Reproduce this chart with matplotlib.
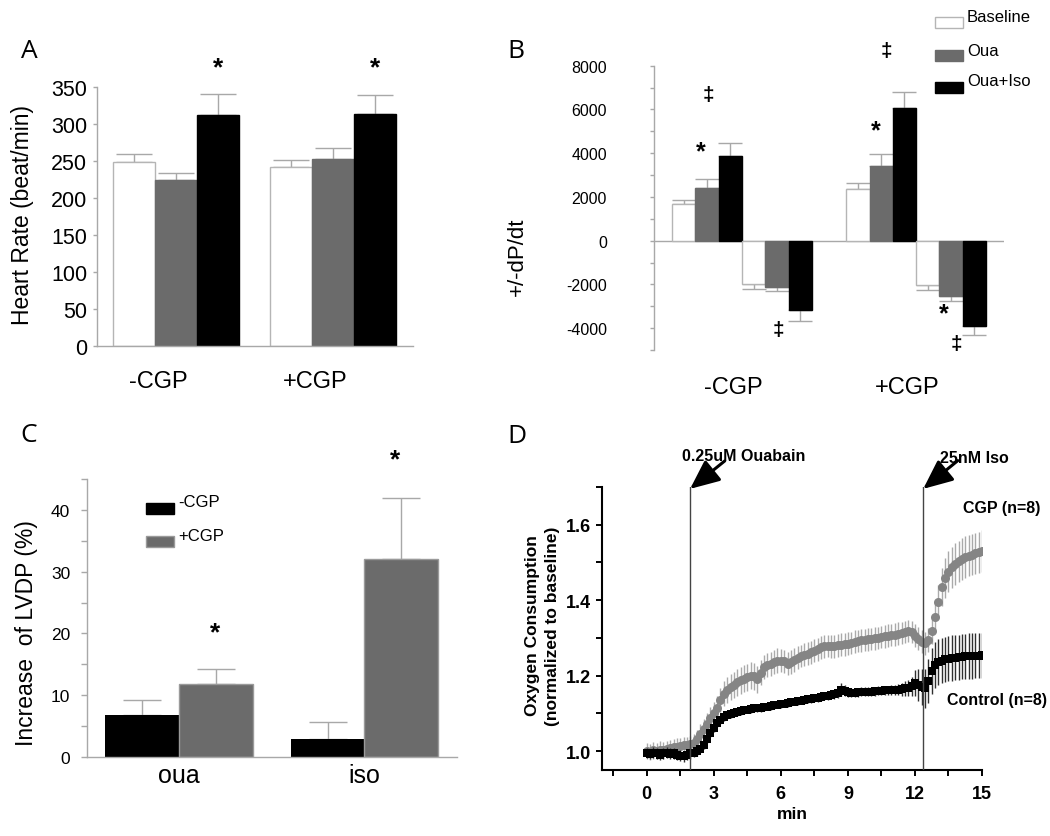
import numpy as np
import matplotlib
matplotlib.use("Agg")
import matplotlib.pyplot as plt
from matplotlib.patches import Rectangle
from matplotlib.ticker import MultipleLocator

plt.rcParams['font.family'] = ['Liberation Sans', 'DejaVu Sans']
plt.rcParams['axes.unicode_minus'] = False

W, H = 1050, 837

# ---------------- data ----------------
# Panel A: heart rate
groups_A = ['-CGP', '+CGP']
hr_baseline = [248, 242]
hr_baseline_err = [12, 9]
hr_oua = [225, 253]
hr_oua_err = [9, 15]
hr_ouaiso = [312, 314]
hr_ouaiso_err = [29, 25]

# Panel B: +/- dP/dt
groups_B = ['-CGP', '+CGP']
dp_pos_baseline = [1660, 2370]
dp_pos_baseline_err = [220, 280]
dp_pos_oua = [2420, 3420]
dp_pos_oua_err = [390, 540]
dp_pos_ouaiso = [3850, 6080]
dp_pos_ouaiso_err = [610, 720]
dp_neg_baseline = [-2000, -2050]
dp_neg_baseline_err = [230, 190]
dp_neg_oua = [-2110, -2540]
dp_neg_oua_err = [200, 230]
dp_neg_ouaiso = [-3150, -3890]
dp_neg_ouaiso_err = [540, 420]
legend_B = ['Baseline', 'Oua', 'Oua+Iso']

# Panel C: increase of LVDP
groups_C = ['oua', 'iso']
lvdp_minus_cgp = [6.75, 2.97]
lvdp_minus_cgp_err = [2.45, 2.7]
lvdp_plus_cgp = [11.77, 32.1]
lvdp_plus_cgp_err = [2.53, 9.8]
legend_C = ['-CGP', '+CGP']

# Panel D: oxygen consumption time course (min)
time_min = [round(0.15 * i, 2) for i in range(101)]
cgp_mean = [1.000, 0.998, 1.002, 1.000, 1.004, 1.002, 1.006, 1.008, 1.010, 1.012,
            1.014, 1.015, 1.016, 1.018, 1.022, 1.032, 1.045, 1.058, 1.072, 1.088,
            1.100, 1.115, 1.135, 1.152, 1.162, 1.170, 1.176, 1.182, 1.188, 1.192,
            1.196, 1.200, 1.198, 1.190, 1.208, 1.222, 1.228, 1.232, 1.236, 1.240,
            1.240, 1.238, 1.232, 1.236, 1.242, 1.248, 1.252, 1.256, 1.258, 1.262,
            1.266, 1.270, 1.275, 1.278, 1.279, 1.278, 1.278, 1.280, 1.282, 1.283,
            1.285, 1.287, 1.290, 1.292, 1.294, 1.295, 1.296, 1.297, 1.299, 1.300,
            1.302, 1.304, 1.306, 1.308, 1.309, 1.311, 1.313, 1.316, 1.318, 1.316,
            1.306, 1.298, 1.290, 1.286, 1.294, 1.318, 1.355, 1.395, 1.435, 1.460,
            1.476, 1.487, 1.496, 1.503, 1.509, 1.514, 1.518, 1.521, 1.524, 1.527,
            1.530]
cgp_err = [0.022, 0.022, 0.022, 0.022, 0.022, 0.022, 0.022, 0.022, 0.022, 0.022,
           0.022, 0.022, 0.022, 0.022, 0.024, 0.025, 0.026, 0.027, 0.028, 0.029,
           0.030, 0.031, 0.032, 0.033, 0.034, 0.035, 0.035, 0.036, 0.036, 0.036,
           0.036, 0.036, 0.036, 0.036, 0.034, 0.032, 0.032, 0.032, 0.032, 0.032,
           0.031, 0.031, 0.031, 0.031, 0.031, 0.030, 0.030, 0.030, 0.030, 0.030,
           0.030, 0.030, 0.030, 0.030, 0.030, 0.030, 0.030, 0.030, 0.030, 0.030,
           0.030, 0.030, 0.030, 0.030, 0.030, 0.030, 0.030, 0.030, 0.030, 0.030,
           0.030, 0.030, 0.030, 0.030, 0.030, 0.030, 0.030, 0.030, 0.030, 0.030,
           0.030, 0.030, 0.030, 0.030, 0.032, 0.035, 0.040, 0.045, 0.050, 0.053,
           0.055, 0.055, 0.055, 0.055, 0.055, 0.055, 0.055, 0.055, 0.055, 0.055,
           0.055]
ctrl_mean = [0.995, 0.992, 0.996, 0.994, 0.990, 0.994, 0.996, 0.993, 0.994, 0.990,
             0.988, 0.986, 0.990, 0.994, 0.996, 1.000, 1.006, 1.016, 1.032, 1.048,
             1.062, 1.074, 1.083, 1.090, 1.095, 1.099, 1.102, 1.104, 1.106, 1.108,
             1.110, 1.111, 1.113, 1.114, 1.115, 1.117, 1.118, 1.120, 1.121, 1.123,
             1.125, 1.126, 1.128, 1.129, 1.131, 1.132, 1.134, 1.135, 1.137, 1.138,
             1.140, 1.141, 1.143, 1.145, 1.147, 1.149, 1.151, 1.155, 1.163, 1.160,
             1.156, 1.155, 1.155, 1.156, 1.157, 1.157, 1.158, 1.158, 1.159, 1.160,
             1.160, 1.161, 1.161, 1.162, 1.162, 1.163, 1.164, 1.166, 1.168, 1.172,
             1.180, 1.176, 1.170, 1.166, 1.185, 1.212, 1.228, 1.236, 1.240, 1.243,
             1.245, 1.247, 1.248, 1.249, 1.250, 1.251, 1.252, 1.252, 1.253, 1.253,
             1.254]
ctrl_err = [0.014, 0.014, 0.014, 0.014, 0.014, 0.014, 0.014, 0.014, 0.014, 0.014,
            0.014, 0.014, 0.014, 0.014, 0.012, 0.012, 0.011, 0.011, 0.010, 0.010,
            0.010, 0.010, 0.010, 0.010, 0.010, 0.010, 0.010, 0.010, 0.010, 0.010,
            0.010, 0.010, 0.010, 0.010, 0.010, 0.010, 0.010, 0.010, 0.010, 0.010,
            0.010, 0.010, 0.010, 0.010, 0.010, 0.010, 0.010, 0.010, 0.010, 0.010,
            0.010, 0.010, 0.010, 0.010, 0.011, 0.011, 0.012, 0.013, 0.018, 0.014,
            0.012, 0.012, 0.012, 0.012, 0.012, 0.012, 0.012, 0.012, 0.012, 0.012,
            0.012, 0.012, 0.012, 0.013, 0.014, 0.015, 0.017, 0.019, 0.021, 0.025,
            0.035, 0.042, 0.048, 0.052, 0.058, 0.060, 0.060, 0.060, 0.060, 0.060,
            0.060, 0.060, 0.060, 0.060, 0.060, 0.060, 0.060, 0.060, 0.060, 0.060,
            0.060]
ouabain_time = 1.94
iso_time = 12.37

# ---------------- helpers ----------------
fig = plt.figure(figsize=(W / 100, H / 100), dpi=100)


def rect(l, t, r, b):
    return [l / W, 1 - b / H, (r - l) / W, (b - t) / H]


def ftext(x, y, s, **kw):
    fig.text(x / W, 1 - y / H, s, **kw)


SP = '#a8a8a8'
GRAY = '#6b6b6b'
ERR = '#a8a8a8'

def light_axes(ax):
    for s in ['top', 'right']:
        ax.spines[s].set_visible(False)
    for s in ['left', 'bottom']:
        ax.spines[s].set_color(SP)
        ax.spines[s].set_linewidth(1)
    ax.tick_params(axis='y', which='both', direction='out', color=SP, width=1)
    ax.tick_params(axis='x', which='both', length=0, labelbottom=False)


LETTER = dict(family='Open Sans', fontsize=19, ha='center', va='center')
ftext(29, 51, 'A', **LETTER)
ftext(516, 51, 'B', **LETTER)
ftext(29, 436, 'C', **LETTER)
ftext(517, 437, 'D', **LETTER)

# ---------------- Panel A ----------------
axA = fig.add_axes(rect(97, 88, 413, 347))
light_axes(axA)
posA = np.arange(len(groups_A)) * 3.75
seriesA = [(hr_baseline, hr_baseline_err, 'white', '#b5b5b5'),
           (hr_oua, hr_oua_err, GRAY, GRAY),
           (hr_ouaiso, hr_ouaiso_err, 'black', 'black')]
for i, (v, e, c, ec) in enumerate(seriesA):
    x = posA + (i - 1)
    axA.bar(x, v, width=1.0, color=c, edgecolor=ec, linewidth=1, zorder=2)
    axA.errorbar(x, v, yerr=[np.zeros(len(v)), e], fmt='none', ecolor=ERR,
                 elinewidth=1, capsize=13, capthick=1, zorder=1)
axA.set_xlim(-1.881, 5.643)
axA.set_ylim(0, 350)
axA.set_yticks(np.arange(0, 351, 50))
axA.tick_params(axis='y', length=3, pad=4, labelsize=15.5)
for g, lab in zip(posA, groups_A):
    axA.text(g - 0.43, -0.135, lab, transform=axA.get_xaxis_transform(),
             ha='center', va='center', fontsize=17)
for g, v in zip(posA, hr_ouaiso):
    axA.text(g + 1, 377, '*', ha='center', va='center', fontsize=19,
             fontweight='bold', clip_on=False)
ftext(23, 215, 'Heart Rate (beat/min)', rotation=90, ha='center', va='center',
      fontsize=16.5)

# ---------------- Panel B ----------------
axB = fig.add_axes(rect(654, 66.7, 1004, 351))
light_axes(axB)
axB.spines['bottom'].set_visible(False)
axB.axhline(0, color=SP, lw=1, zorder=0)
posB = np.arange(len(groups_B)) * 7.47
seriesB = [(dp_pos_baseline, dp_pos_baseline_err, 'white', '#b5b5b5', -2.5, 1),
           (dp_pos_oua, dp_pos_oua_err, GRAY, GRAY, -1.5, 1),
           (dp_pos_ouaiso, dp_pos_ouaiso_err, 'black', 'black', -0.5, 1),
           (dp_neg_baseline, dp_neg_baseline_err, 'white', '#b5b5b5', 0.5, -1),
           (dp_neg_oua, dp_neg_oua_err, GRAY, GRAY, 1.5, -1),
           (dp_neg_ouaiso, dp_neg_ouaiso_err, 'black', 'black', 2.5, -1)]
for v, e, c, ec, off, sgn in seriesB:
    x = posB + off
    axB.bar(x, v, width=1.0, color=c, edgecolor=ec, linewidth=1, zorder=2)
    z = np.zeros(len(v))
    yerr = [z, e] if sgn > 0 else [e, z]
    axB.errorbar(x, v, yerr=yerr, fmt='none', ecolor=ERR, elinewidth=1,
                 capsize=8.5, capthick=1, zorder=1)
axB.set_xlim(-3.78, 11.24)
axB.set_ylim(-5000, 8000)
axB.set_yticks(np.arange(-4000, 8001, 2000))
axB.yaxis.set_minor_locator(MultipleLocator(1000))
axB.tick_params(axis='y', which='both', length=3, pad=31, labelsize=11.5)
for g, lab in zip(posB, groups_B):
    axB.text(g - 0.37, -0.13, lab, transform=axB.get_xaxis_transform(),
             ha='center', va='center', fontsize=17)
# significance marks (offset relative to group centre, value)
marks_B = [('‡', 0, -1.44, 6662), ('*', 0, -1.77, 4077), ('‡', 0, 1.56, -4077),
           ('‡', 1, -1.29, 8692), ('*', 1, -1.73, 5046), ('*', 1, 1.17, -3338),
           ('‡', 1, 1.71, -4692)]
for s, gi, off, yv in marks_B:
    axB.text(posB[gi] + off, yv, s, ha='center', va='center',
             fontsize=15 if s == '‡' else 18, fontweight='bold', clip_on=False)
ftext(517, 257, '+/-dP/dt', rotation=90, ha='center', va='center', fontsize=16)
# legend B
legB_style = [('white', '#b5b5b5', 23.5, 17), (GRAY, GRAY, 56, 52), ('black', 'black', 88.5, 82)]
for lab, (fc, ec, py, ty) in zip(legend_B, legB_style):
    fig.patches.append(Rectangle(((935) / W, 1 - (py + 5.5) / H), 28 / W, 11 / H,
                                 facecolor=fc, edgecolor=ec, lw=1,
                                 transform=fig.transFigure, figure=fig))
    ftext(967, ty, lab, ha='left', va='center', fontsize=12)

# ---------------- Panel C ----------------
axC = fig.add_axes(rect(87, 480, 457, 758))
light_axes(axC)
posC = np.arange(len(groups_C)) * 2.52
axC.bar(posC - 0.5, lvdp_minus_cgp, width=1.0, color='black', zorder=2)
axC.errorbar(posC - 0.5, lvdp_minus_cgp, yerr=[np.zeros(2), lvdp_minus_cgp_err],
             fmt='none', ecolor=ERR, elinewidth=1, capsize=14, capthick=1, zorder=1)
axC.bar(posC + 0.5, lvdp_plus_cgp, width=1.0, color=GRAY, edgecolor='#9a9a9a',
        linewidth=1, zorder=2)
axC.errorbar(posC + 0.5, lvdp_plus_cgp, yerr=[np.zeros(2), lvdp_plus_cgp_err],
             fmt='none', ecolor=ERR, elinewidth=1, capsize=14, capthick=1, zorder=1)
axC.set_xlim(-1.25, 3.78)
axC.set_ylim(0, 45)
axC.set_yticks(np.arange(0, 41, 10))
axC.yaxis.set_minor_locator(MultipleLocator(5))
axC.tick_params(axis='y', which='both', length=4, pad=8, labelsize=12.5)
for g, lab in zip(posC, groups_C):
    axC.text(g, -0.063, lab, transform=axC.get_xaxis_transform(),
             ha='center', va='center', fontsize=18)
axC.text(posC[0] + 0.49, 20.2, '*', ha='center', va='center', fontsize=19,
         fontweight='bold')
axC.text(posC[1] + 0.42, 48.2, '*', ha='center', va='center', fontsize=19,
         fontweight='bold', clip_on=False)
ftext(27, 633, 'Increase  of LVDP (%)', rotation=90, ha='center', va='center',
      fontsize=16.5)
legC_style = [('black', 'black', 509.5, 503), (GRAY, '#9a9a9a', 542, 537)]
for lab, (fc, ec, py, ty) in zip(legend_C, legC_style):
    fig.patches.append(Rectangle((146 / W, 1 - (py + 5.5) / H), 28 / W, 11 / H,
                                 facecolor=fc, edgecolor=ec, lw=1,
                                 transform=fig.transFigure, figure=fig))
    ftext(178, ty, lab, ha='left', va='center', fontsize=12)

# ---------------- Panel D ----------------
axD = fig.add_axes(rect(602, 488, 982, 771))
for s in ['top', 'right']:
    axD.spines[s].set_visible(False)
for s in ['left', 'bottom']:
    axD.spines[s].set_linewidth(1.5)
axD.set_xlim(-2, 15)
axD.set_ylim(0.95, 1.70)
axD.set_xticks(np.arange(0, 16, 3))
axD.xaxis.set_minor_locator(MultipleLocator(1.5))
axD.set_yticks([1.0, 1.2, 1.4, 1.6])
axD.yaxis.set_minor_locator(MultipleLocator(0.1))
axD.tick_params(which='both', direction='out', length=4, width=1.4)
axD.tick_params(axis='x', pad=7, labelsize=13)
axD.tick_params(axis='y', pad=4, labelsize=13)
for lab in axD.get_xticklabels() + axD.get_yticklabels():
    lab.set_fontweight('bold')
axD.yaxis.set_major_formatter(matplotlib.ticker.FormatStrFormatter('%.1f'))

axD.errorbar(time_min, cgp_mean, yerr=cgp_err, fmt='o', color='#858585',
             markersize=6.5, markeredgewidth=0, ecolor='#aaaaaa', elinewidth=1.0,
             capsize=2.5, capthick=1.0, zorder=2)
axD.errorbar(time_min, ctrl_mean, yerr=ctrl_err, fmt='s', color='black',
             markersize=6, markeredgewidth=0, ecolor='#303030', elinewidth=1.0,
             capsize=2.5, capthick=1.0, zorder=3)
for tv in [ouabain_time, iso_time]:
    axD.axvline(tv, color='#444444', lw=1, zorder=4)

arrow_kw = dict(arrowstyle='-|>,head_length=0.9,head_width=0.4',
                color='black', lw=2.2, mutation_scale=20, shrinkA=0, shrinkB=0)
axD.annotate('', xy=(ouabain_time, 1.695), xytext=(3.49, 1.769),
             arrowprops=arrow_kw, annotation_clip=False)
axD.annotate('', xy=(iso_time, 1.695), xytext=(13.92, 1.770),
             arrowprops=arrow_kw, annotation_clip=False)
BOLD = dict(fontweight='bold', fontsize=11.5)
ftext(744, 457, '0.25uM Ouabain', ha='center', va='center', **BOLD)
ftext(974, 459, '25nM Iso', ha='center', va='center', **BOLD)
ftext(963, 508, 'CGP (n=8)', ha='left', va='center', **BOLD)
ftext(947, 701, 'Control (n=8)', ha='left', va='center', **BOLD)
ftext(792, 815, 'min', ha='center', va='center', fontweight='bold', fontsize=12.5)
ftext(533, 626, 'Oxygen Consumption', rotation=90, ha='center', va='center',
      fontweight='bold', fontsize=12.5)
ftext(553, 626, '(normalized to baseline)', rotation=90, ha='center', va='center',
      fontweight='bold', fontsize=12.5)

fig.savefig('out.png', dpi=100)
